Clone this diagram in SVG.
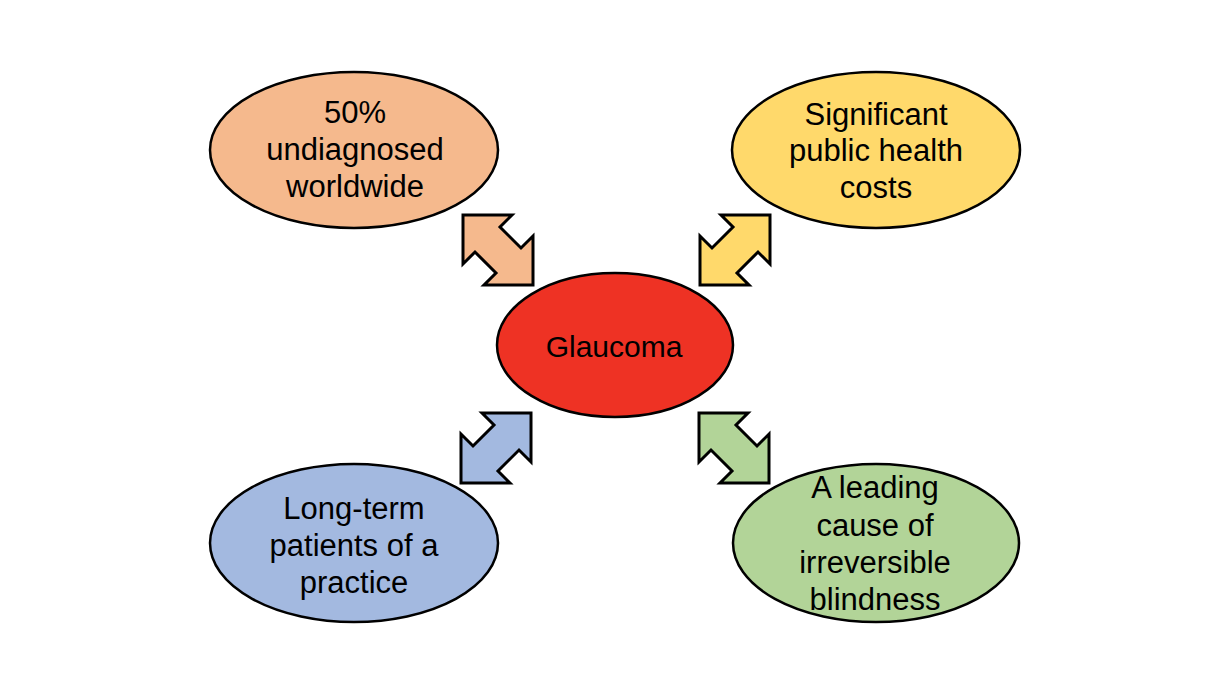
<svg xmlns="http://www.w3.org/2000/svg" xmlns:xlink="http://www.w3.org/1999/xlink" width="1230" height="692" viewBox="0 0 1230 692">
<style>
.node ellipse{stroke:#000;stroke-width:2.5}
.lbl{font-family:"Liberation Sans",Arial,sans-serif;font-size:31px;fill:#000;text-anchor:middle}
.arr{stroke:#000;stroke-width:3;stroke-linejoin:miter}
.orange{fill:#F5B98D}
.yellow{fill:#FFD96B}
.blue{fill:#A3B9E0}
.green{fill:#B2D498}
.red{fill:#EE3224}
</style>
<defs>
<polygon id="dblarrow" points="0,0 49,0 37,12 58,33 70,21 70,70 21,70 33,58 12,37 0,49"/>
</defs>
<rect width="1230" height="692" fill="#fff"/>
<g id="connectors">
<use xlink:href="#dblarrow" class="arr orange" transform="translate(463,215)"/>
<use xlink:href="#dblarrow" class="arr yellow" transform="translate(770,215) scale(-1,1)"/>
<use xlink:href="#dblarrow" class="arr blue" transform="translate(531,413) scale(-1,1)"/>
<use xlink:href="#dblarrow" class="arr green" transform="translate(699,413)"/>
</g>
<g id="node-glaucoma" class="node">
<ellipse cx="615" cy="345" rx="118" ry="72" class="red"/>
<text class="lbl" x="614" y="357" style="font-size:30px">Glaucoma</text>
</g>
<g id="node-undiagnosed" class="node">
<ellipse cx="354" cy="150" rx="144" ry="78" class="orange"/>
<text class="lbl" x="355" y="123">50%</text>
<text class="lbl" x="355" y="160">undiagnosed</text>
<text class="lbl" x="355" y="197">worldwide</text>
</g>
<g id="node-costs" class="node">
<ellipse cx="876" cy="150" rx="144" ry="78" class="yellow"/>
<text class="lbl" x="876" y="125">Significant</text>
<text class="lbl" x="876" y="161">public health</text>
<text class="lbl" x="876" y="198">costs</text>
</g>
<g id="node-patients" class="node">
<ellipse cx="354" cy="543" rx="144" ry="79" class="blue"/>
<text class="lbl" x="354" y="519">Long-term</text>
<text class="lbl" x="354" y="556">patients of a</text>
<text class="lbl" x="354" y="593">practice</text>
</g>
<g id="node-blindness" class="node">
<ellipse cx="876" cy="543" rx="143" ry="79" class="green"/>
<text class="lbl" x="875" y="498">A leading</text>
<text class="lbl" x="875" y="536">cause of</text>
<text class="lbl" x="875" y="573">irreversible</text>
<text class="lbl" x="875" y="610">blindness</text>
</g>
</svg>
